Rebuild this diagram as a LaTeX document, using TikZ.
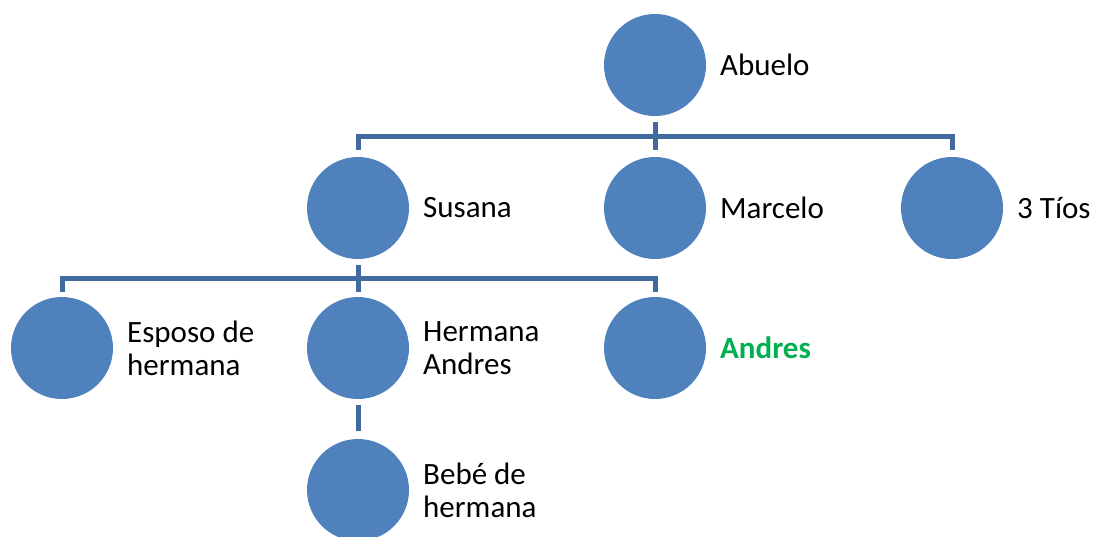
\documentclass[tikz,border=0pt]{standalone}
\usepackage{fontspec}
\setmainfont{Carlito}
\usepackage{tikz}
\usetikzlibrary{calc}
\definecolor{circfill}{HTML}{4F81BD}
\definecolor{linkcol}{HTML}{416A9E}
\definecolor{megreen}{HTML}{00B050}
\tikzset{
  person/.style={circle, fill=circfill, minimum size=102pt, inner sep=0pt},
  nametext/.style={anchor=west, align=left, inner sep=0pt, font=\fontsize{31pt}{33pt}\selectfont},
  link/.style={draw=linkcol, line width=5pt}
}

\begin{document}
\begin{tikzpicture}[x=1pt,y=-1pt]
\clip (0,0) rectangle (1093,536);
% people
\node[person] (abuelo)  at (655,65)  {};
\node[person] (susana)  at (358,208) {};
\node[person] (marcelo) at (655,208) {};
\node[person] (tios)    at (952,208) {};
\node[person] (esposo)  at (62,348)  {};
\node[person] (hermana) at (358,348) {};
\node[person] (andres)  at (655,348) {};
\node[person] (bebe)    at (358,490) {};
% names
\node[nametext] (tabuelo)  at ($(abuelo)+(65,0)$)  {Abuelo};
\node[nametext] (tsusana)  at ($(susana)+(65,0)$)  {Susana};
\node[nametext] (tmarcelo) at ($(marcelo)+(65,0)$) {Marcelo};
\node[nametext] (ttios)    at ($(tios)+(65,0)$)    {3 Tíos};
\node[nametext] (tesposo)  at ($(esposo)+(65,0)$)  {Esposo de\\hermana};
\node[nametext] (thermana) at ($(hermana)+(65,0)$) {Hermana\\Andres};
\node[nametext, text=megreen, font=\fontsize{31pt}{33pt}\selectfont\bfseries] (tandres) at ($(andres)+(65,0)$) {Andres};
\node[nametext] (tbebe)    at ($(bebe)+(65,0)$)    {Bebé de\\hermana};
% connectors
\coordinate (busa) at (655,136);
\coordinate (busb) at (358,278);
\draw[link] ([yshift=-6pt]abuelo.south) -- (busa);
\draw[link] ([yshift=7pt]susana.north) |- (busa) -| ([yshift=7pt]tios.north);
\draw[link] (busa) -- ([yshift=7pt]marcelo.north);
\draw[link] ([yshift=-6pt]susana.south) -- (busb);
\draw[link] ([yshift=5pt]esposo.north) |- (busb) -| ([yshift=5pt]andres.north);
\draw[link] (busb) -- ([yshift=5pt]hermana.north);
\draw[link] ([yshift=-6pt]hermana.south) -- ([yshift=8pt]bebe.north);
\end{tikzpicture}
\end{document}
